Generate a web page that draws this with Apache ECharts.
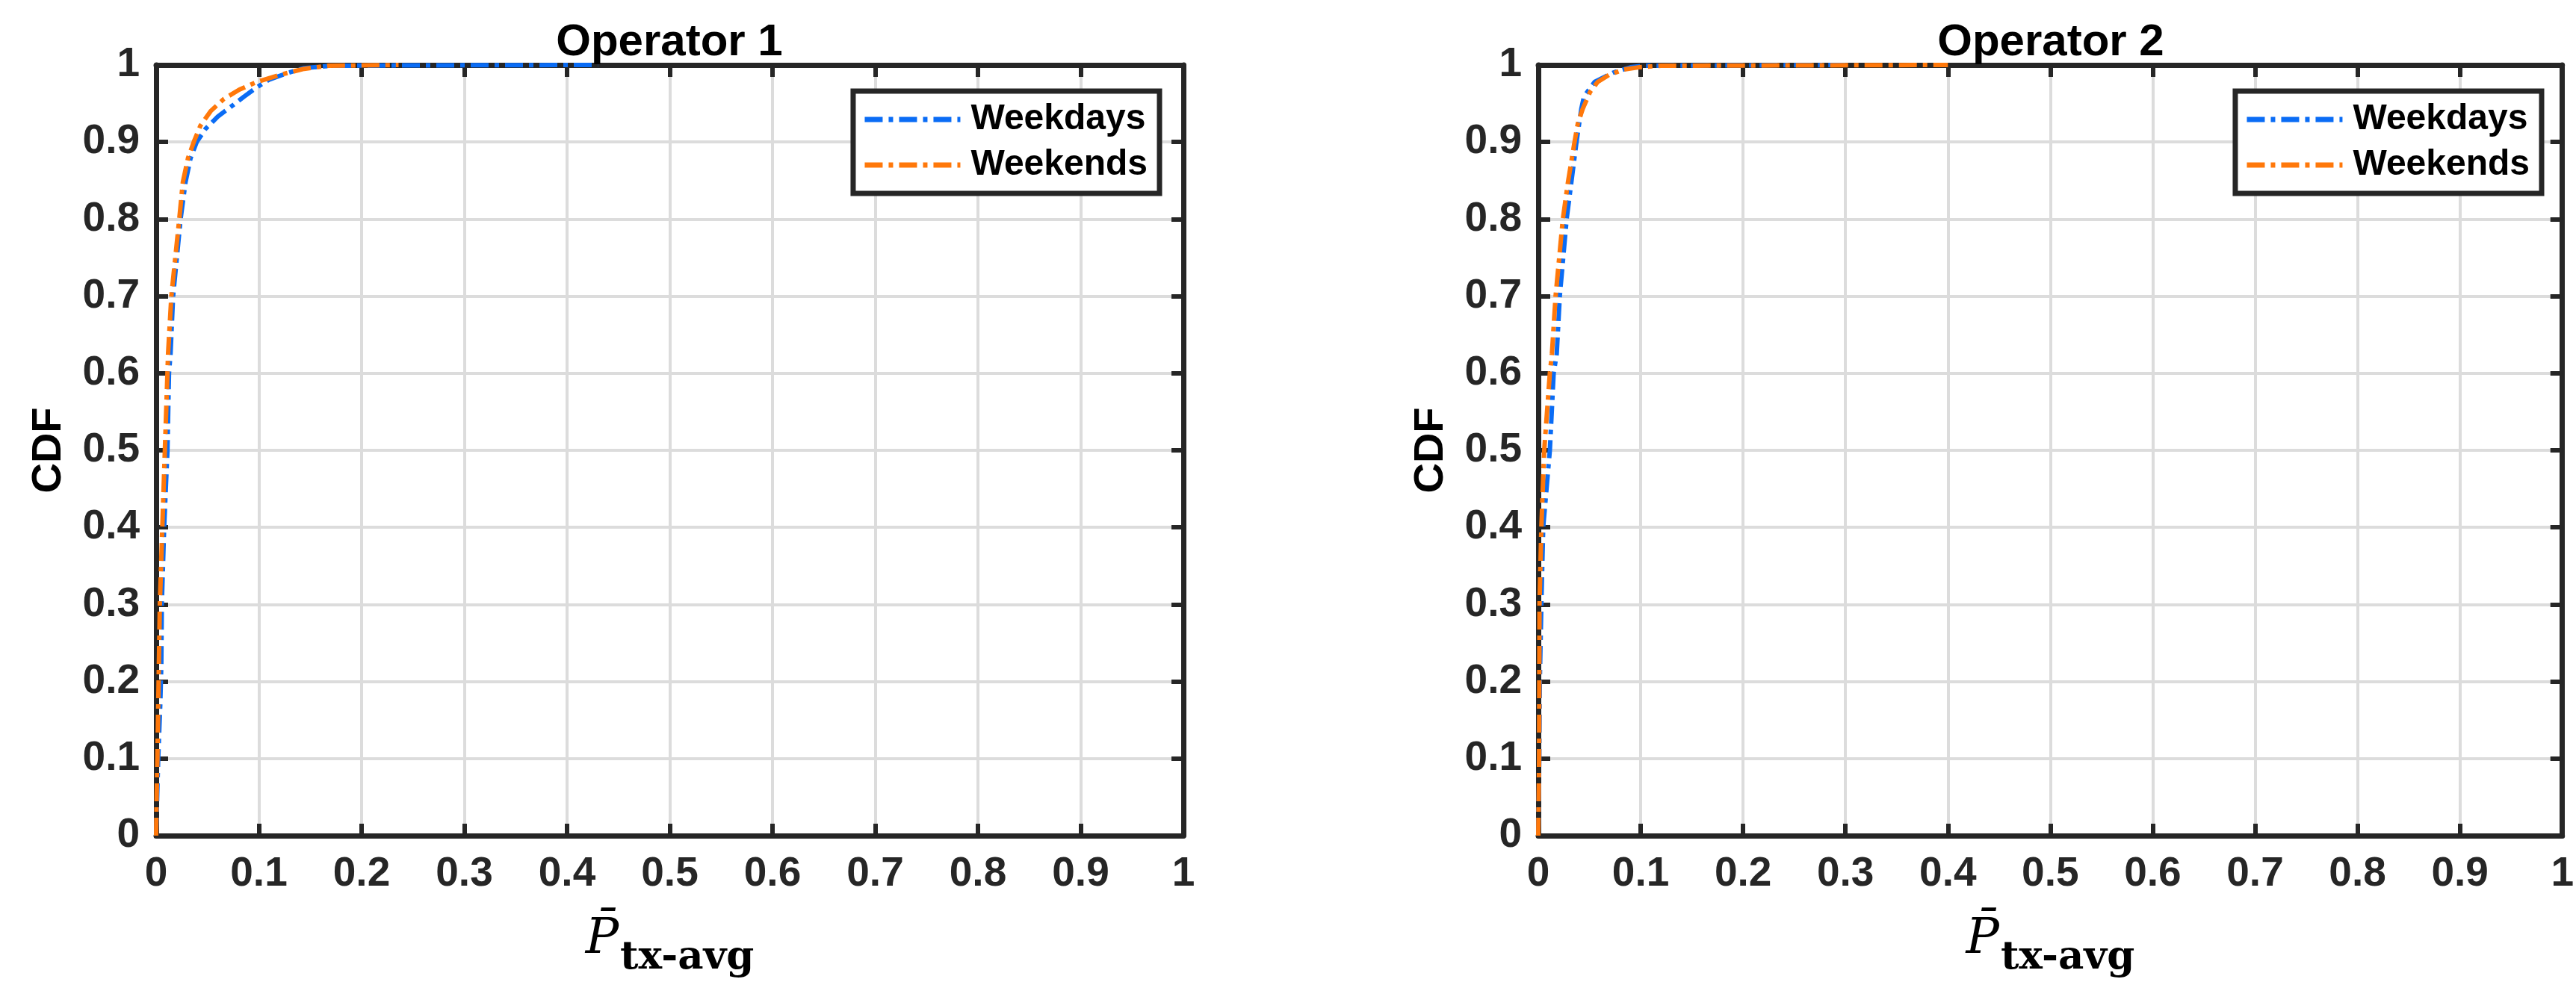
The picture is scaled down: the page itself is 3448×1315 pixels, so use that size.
<!DOCTYPE html>
<html>
<head>
<meta charset="utf-8">
<title>CDF of P tx-avg</title>
<script src="https://cdn.jsdelivr.net/npm/echarts@6/dist/echarts.min.js"></script>
<style>
  html, body { margin: 0; padding: 0; background: #fff; }
  #chart { width: 3448px; height: 1315px; }
</style>
</head>
<body>
<div id="chart"></div>
<script>
// panel titles and legend names
var titles = ['Operator 1', 'Operator 2'];
var seriesNames = ['Weekdays', 'Weekends'];

// CDF curves, [x, CDF]
var op1Weekdays = [
  [0, 0], [0.002, 0.1], [0.004, 0.17], [0.005, 0.22], [0.0055, 0.3], [0.0078, 0.4],
  [0.011, 0.5], [0.0125, 0.6], [0.014, 0.625], [0.0165, 0.7], [0.0238, 0.8],
  [0.0286, 0.848], [0.0335, 0.879], [0.0395, 0.9], [0.048, 0.917], [0.06, 0.933],
  [0.073, 0.946], [0.0856, 0.959], [0.098, 0.971], [0.11, 0.981], [0.129, 0.99],
  [0.144, 0.996], [0.17, 0.999], [0.25, 0.9995], [0.43, 1]
];
var op1Weekends = [
  [0, 0], [0.0005, 0.05], [0.0012, 0.1], [0.0024, 0.2], [0.0036, 0.3], [0.006, 0.4],
  [0.0085, 0.5], [0.011, 0.6], [0.0116, 0.625], [0.0148, 0.7], [0.0225, 0.8],
  [0.026, 0.848], [0.031, 0.879], [0.0366, 0.9], [0.043, 0.921], [0.053, 0.94],
  [0.066, 0.956], [0.081, 0.968], [0.098, 0.978], [0.12, 0.987], [0.144, 0.995],
  [0.168, 0.999], [0.236, 1]
];
var op2Weekdays = [
  [0, 0], [0.001, 0.1], [0.0015, 0.2], [0.003, 0.3], [0.0048, 0.4], [0.0113, 0.5],
  [0.015, 0.6], [0.018, 0.625], [0.021, 0.7], [0.0277, 0.8], [0.0373, 0.9],
  [0.042, 0.943], [0.0446, 0.959], [0.055, 0.978], [0.073, 0.99], [0.09, 0.997],
  [0.102, 0.999], [0.2, 0.9995], [0.3, 1]
];
var op2Weekends = [
  [0, 0], [0.0008, 0.1], [0.001, 0.2], [0.0012, 0.3], [0.003, 0.4], [0.0058, 0.5],
  [0.0113, 0.6], [0.0133, 0.625], [0.0169, 0.7], [0.024, 0.8], [0.029, 0.848],
  [0.0354, 0.9], [0.0386, 0.924], [0.0434, 0.943], [0.0506, 0.965], [0.058, 0.978],
  [0.069, 0.987], [0.083, 0.994], [0.098, 0.997], [0.12, 0.999], [0.4, 1]
];

var blue = '#0a6cf5';
var orange = '#ff780a';
var ink = '#262626';
var dashDot = [24, 8, 6, 8];

var chart = echarts.init(document.getElementById('chart'));

function mainX(gridIndex) {
  return {
    type: 'value', gridIndex: gridIndex, position: 'bottom',
    min: 0, max: 1, interval: 0.1,
    axisLine: { show: true, onZero: false, lineStyle: { color: ink, width: 7 } },
    axisTick: { show: true, inside: true, length: 16, lineStyle: { color: ink, width: 6 } },
    axisLabel: { margin: 24, fontFamily: 'Liberation Sans', fontWeight: 'bold', fontSize: 55, color: ink },
    splitLine: { show: true, lineStyle: { color: '#dcdcdc', width: 4 } },
    name: '{p|P\u0304}{s|tx-avg}',
    nameLocation: 'middle',
    nameGap: 88,
    nameTextStyle: {
      rich: {
        p: { fontFamily: 'DejaVu Serif', fontStyle: 'italic', fontSize: 66, color: '#000' },
        s: { fontFamily: 'DejaVu Serif', fontWeight: 'bold', fontSize: 53, color: '#000', padding: [50, 0, 0, 2] }
      }
    }
  };
}
function boxX(gridIndex) {
  return {
    type: 'value', gridIndex: gridIndex, position: 'top',
    min: 0, max: 1, interval: 0.1,
    axisLine: { show: true, onZero: false, lineStyle: { color: ink, width: 7 } },
    axisTick: { show: true, inside: true, length: 16, lineStyle: { color: ink, width: 6 } },
    axisLabel: { show: false },
    splitLine: { show: false }
  };
}
function mainY(gridIndex) {
  return {
    type: 'value', gridIndex: gridIndex, position: 'left',
    min: 0, max: 1, interval: 0.1,
    axisLine: { show: true, onZero: false, lineStyle: { color: ink, width: 7 } },
    axisTick: { show: true, inside: true, length: 16, lineStyle: { color: ink, width: 6 } },
    axisLabel: { margin: 22, fontFamily: 'Liberation Sans', fontWeight: 'bold', fontSize: 55, color: ink },
    splitLine: { show: true, lineStyle: { color: '#dcdcdc', width: 4 } },
    name: 'CDF',
    nameLocation: 'middle',
    nameGap: 115,
    nameTextStyle: { fontFamily: 'Liberation Sans', fontWeight: 'bold', fontSize: 56, color: '#000' }
  };
}
function boxY(gridIndex) {
  return {
    type: 'value', gridIndex: gridIndex, position: 'right',
    min: 0, max: 1, interval: 0.1,
    axisLine: { show: true, onZero: false, lineStyle: { color: ink, width: 7 } },
    axisTick: { show: true, inside: true, length: 16, lineStyle: { color: ink, width: 6 } },
    axisLabel: { show: false },
    splitLine: { show: false }
  };
}
function cdfLine(name, data, color, axisIndex) {
  return {
    name: name, type: 'line', data: data,
    xAxisIndex: axisIndex, yAxisIndex: axisIndex,
    symbol: 'none', animation: false,
    lineStyle: { color: color, width: 6, type: dashDot },
    itemStyle: { color: color }
  };
}
function legendBox(rightPx) {
  return {
    orient: 'vertical', right: rightPx, top: 122,
    data: seriesNames,
    itemWidth: 128, itemHeight: 20, itemGap: 13,
    padding: [14, 16, 14, 12],
    backgroundColor: '#fff', borderColor: ink, borderWidth: 7,
    itemStyle: { opacity: 0 },
    lineStyle: { width: 7 },
    textStyle: { fontFamily: 'Liberation Sans', fontWeight: 'bold', fontSize: 48, color: '#000', padding: [0, 0, 0, 9] },
    selectedMode: false
  };
}

var option = {
  backgroundColor: '#fff',
  title: [
    { text: titles[0], left: 896, top: 27, padding: 0, textAlign: 'center',
      textStyle: { fontFamily: 'Liberation Sans', fontWeight: 'bold', fontSize: 60, color: '#000' } },
    { text: titles[1], left: 2745, top: 27, padding: 0, textAlign: 'center',
      textStyle: { fontFamily: 'Liberation Sans', fontWeight: 'bold', fontSize: 60, color: '#000' } }
  ],
  legend: [legendBox(1896), legendBox(46)],
  grid: [
    { left: 209, right: 1864, top: 87, bottom: 178 },
    { left: 2059, right: 16, top: 87, bottom: 178 }
  ],
  xAxis: [mainX(0), boxX(0), mainX(1), boxX(1)],
  yAxis: [mainY(0), boxY(0), mainY(1), boxY(1)],
  series: [
    cdfLine(seriesNames[0], op1Weekdays, blue, 0),
    cdfLine(seriesNames[1], op1Weekends, orange, 0),
    cdfLine(seriesNames[0], op2Weekdays, blue, 2),
    cdfLine(seriesNames[1], op2Weekends, orange, 2)
  ]
};
chart.setOption(option);
</script>
</body>
</html>
